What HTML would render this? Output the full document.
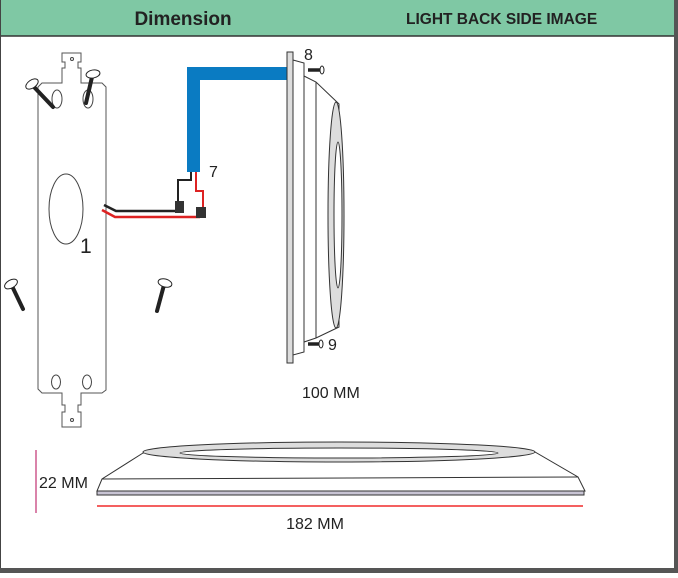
<!DOCTYPE html>
<html><head><style>
body{margin:0;width:678px;height:573px;overflow:hidden;background:#fff;font-family:"Liberation Sans",sans-serif}
</style></head><body>
<svg width="678" height="573" viewBox="0 0 678 573" xmlns="http://www.w3.org/2000/svg" font-family="Liberation Sans, sans-serif">
<rect x="0" y="0" width="678" height="573" fill="#fff"/>
<rect x="0" y="0" width="676" height="36" fill="#7fc8a4"/>
<line x1="0" y1="36" x2="676" y2="36" stroke="#333" stroke-width="1.5"/>
<rect x="0" y="0" width="1" height="573" fill="#444"/>
<rect x="674" y="0" width="4" height="573" fill="#555"/>
<rect x="0" y="568" width="678" height="5" fill="#555"/>
<text x="183" y="25" font-size="19" font-weight="bold" text-anchor="middle" fill="#222">Dimension</text>
<text x="406" y="24" font-size="15.5" font-weight="bold" fill="#222">LIGHT BACK SIDE IMAGE</text>

<!-- plate -->
<path d="M62,53 H81 V62 H78 V68 H81 V83 H102 L106,87 V390 L102,393 H81 V405 H78 V412 H81 V427 H62 V412 H65 V405 H62 V393 H42 L38,389 V87 L42,83 H62 V68 H65 V62 H62 Z" fill="#fff" stroke="#555" stroke-width="1"/>
<circle cx="72" cy="59" r="1.5" fill="none" stroke="#444"/>
<circle cx="72" cy="420" r="1.5" fill="none" stroke="#444"/>
<ellipse cx="57" cy="99" rx="5" ry="9" fill="none" stroke="#444"/>
<ellipse cx="88" cy="99" rx="5" ry="9" fill="none" stroke="#444"/>
<ellipse cx="56" cy="382" rx="4.5" ry="7" fill="none" stroke="#444"/>
<ellipse cx="87" cy="382" rx="4.5" ry="7" fill="none" stroke="#444"/>
<ellipse cx="66" cy="209" rx="17" ry="35" fill="none" stroke="#444"/>
<text x="80" y="253" font-size="21" fill="#222">1</text>

<!-- screws -->
<g stroke="#222" stroke-linecap="round">
<line x1="34" y1="87" x2="53" y2="107" stroke-width="4"/>
<line x1="92" y1="77" x2="86" y2="103" stroke-width="4"/>
<line x1="12" y1="286" x2="23" y2="309" stroke-width="4"/>
<line x1="164" y1="285" x2="157" y2="311" stroke-width="4"/>
</g>
<g fill="#fff" stroke="#222" stroke-width="1">
<ellipse cx="32" cy="84" rx="7" ry="4" transform="rotate(-35 32 84)"/>
<ellipse cx="93" cy="74" rx="7" ry="4" transform="rotate(-10 93 74)"/>
<ellipse cx="11" cy="284" rx="7" ry="4" transform="rotate(-30 11 284)"/>
<ellipse cx="165" cy="283" rx="7" ry="4" transform="rotate(15 165 283)"/>
</g>

<!-- blue conduit -->
<path d="M287,73.5 H193.5 V172" fill="none" stroke="#0a7bc2" stroke-width="13"/>
<text x="209" y="177" font-size="16" fill="#222">7</text>
<!-- wires -->
<polyline points="191,172 191,180 178,180 178,205" fill="none" stroke="#222" stroke-width="2"/>
<polyline points="196,172 196,191 203,191 203,208" fill="none" stroke="#d22" stroke-width="2"/>
<polyline points="104,205 116,211 180,211" fill="none" stroke="#222" stroke-width="2.5"/>
<polyline points="102,210 115,217 200,217" fill="none" stroke="#d22" stroke-width="2.5"/>
<rect x="175" y="201" width="9" height="12" fill="#333"/>
<rect x="196" y="207" width="10" height="11" fill="#333"/>

<!-- light side -->
<rect x="287" y="52" width="6" height="311" fill="#ddd" stroke="#333" stroke-width="1"/>
<polygon points="293,60 304,63 304,352 293,355" fill="#fff" stroke="#333"/>
<polygon points="304,76 316,82 339,104 339,327 316,338 304,342" fill="#fff" stroke="#333"/>
<line x1="316" y1="82" x2="316" y2="338" stroke="#333"/>
<ellipse cx="336" cy="215" rx="8" ry="113" fill="#ddd" stroke="#333"/>
<ellipse cx="338" cy="215" rx="4" ry="73" fill="#fff" stroke="#333"/>
<line x1="308" y1="70" x2="320" y2="70" stroke="#222" stroke-width="3.5"/>
<ellipse cx="322" cy="70" rx="2" ry="4" fill="#fff" stroke="#222"/>
<line x1="308" y1="344" x2="319" y2="344" stroke="#222" stroke-width="3.5"/>
<ellipse cx="321" cy="344" rx="2" ry="4" fill="#fff" stroke="#222"/>
<text x="304" y="60" font-size="16" fill="#222">8</text>
<text x="328" y="350" font-size="16" fill="#222">9</text>
<text x="302" y="398" font-size="16" fill="#222">100 MM</text>

<!-- bottom profile -->
<polygon points="143,453 102,479 97,491 585,491 578,477 535,452" fill="#fff" stroke="#333"/>
<line x1="102" y1="479" x2="578" y2="477" stroke="#333"/>
<ellipse cx="339" cy="452" rx="196" ry="10" fill="#ddd" stroke="#333"/>
<ellipse cx="339" cy="453" rx="159" ry="5" fill="#fff" stroke="#333"/>
<rect x="97" y="491" width="487" height="4" fill="#c8c4d4" stroke="#333" stroke-width="1"/>
<line x1="97" y1="506" x2="583" y2="506" stroke="#e00" stroke-width="1.2"/>
<line x1="36" y1="450" x2="36" y2="513" stroke="#c03070" stroke-width="1.2"/>
<text x="39" y="488" font-size="16" fill="#222">22 MM</text>
<text x="315" y="529" font-size="16" fill="#222" text-anchor="middle">182 MM</text>
</svg>
</body></html>
